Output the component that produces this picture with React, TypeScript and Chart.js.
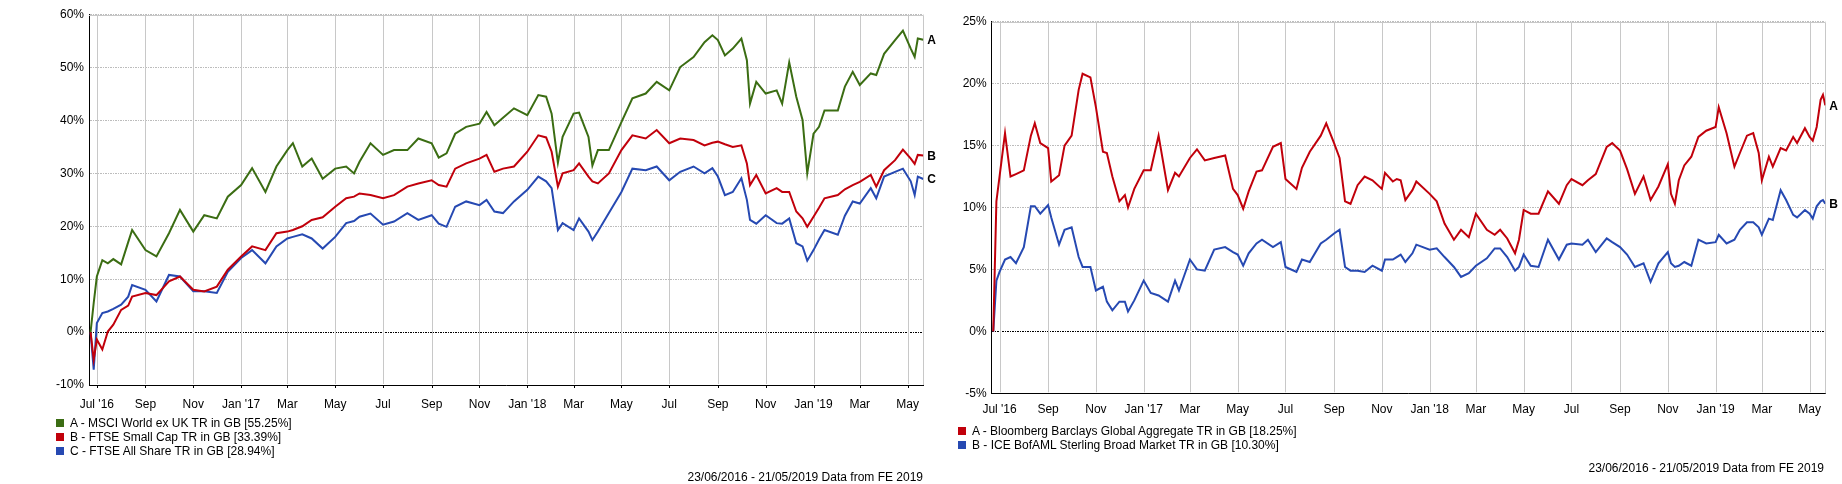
import React, { useEffect, useRef } from "react";
import { Chart, registerables } from "chart.js";

Chart.register(...registerables);

const FONT = 'Arial, "Liberation Sans", sans-serif';

// ---------- shared time axis ----------
const X_MIN = "2016-06-21";
const X_MAX = "2019-05-21";
const TICK_DATES = [
  "2016-07-01", "2016-09-01", "2016-11-01", "2017-01-01", "2017-03-01", "2017-05-01",
  "2017-07-01", "2017-09-01", "2017-11-01", "2018-01-01", "2018-03-01", "2018-05-01",
  "2018-07-01", "2018-09-01", "2018-11-01", "2019-01-01", "2019-03-01", "2019-05-01",
];
const TICK_LABELS = [
  "Jul '16", "Sep", "Nov", "Jan '17", "Mar", "May",
  "Jul", "Sep", "Nov", "Jan '18", "Mar", "May",
  "Jul", "Sep", "Nov", "Jan '19", "Mar", "May",
];

// ---------- left chart (equities) ----------
const LEFT_DATES = [
  "2016-06-23", "2016-06-27", "2016-07-01", "2016-07-08", "2016-07-15", "2016-07-22", "2016-08-01", "2016-08-10", "2016-08-15",
  "2016-09-01", "2016-09-15", "2016-10-01", "2016-10-15", "2016-11-01", "2016-11-15", "2016-12-01", "2016-12-15",
  "2017-01-01", "2017-01-15", "2017-02-01", "2017-02-15", "2017-03-01", "2017-03-08", "2017-03-20", "2017-04-01", "2017-04-15",
  "2017-05-01", "2017-05-15", "2017-05-25", "2017-06-01", "2017-06-15", "2017-07-01", "2017-07-15", "2017-08-01", "2017-08-15",
  "2017-09-01", "2017-09-10", "2017-09-20", "2017-10-01", "2017-10-15", "2017-11-01", "2017-11-10", "2017-11-20", "2017-12-01", "2017-12-15",
  "2018-01-01", "2018-01-15", "2018-01-25", "2018-02-01", "2018-02-09", "2018-02-15", "2018-03-01", "2018-03-08", "2018-03-20", "2018-03-25",
  "2018-04-01", "2018-04-15", "2018-05-01", "2018-05-15", "2018-06-01", "2018-06-15", "2018-07-01", "2018-07-15", "2018-08-01", "2018-08-15",
  "2018-08-25", "2018-09-01", "2018-09-10", "2018-09-20", "2018-10-01", "2018-10-08", "2018-10-12", "2018-10-20", "2018-11-01", "2018-11-15",
  "2018-11-22", "2018-12-01", "2018-12-10", "2018-12-18", "2018-12-24",
  "2019-01-01", "2019-01-08", "2019-01-15", "2019-02-01", "2019-02-10", "2019-02-20", "2019-03-01", "2019-03-15", "2019-03-22",
  "2019-04-01", "2019-04-15", "2019-04-25", "2019-05-05", "2019-05-10", "2019-05-14", "2019-05-21",
];
const MSCI_WORLD_EX_UK = [
  0, 5.5, 10.5, 13.6, 13, 13.8, 12.8, 17, 19.3, 15.5, 14.3, 18.7, 23.1, 19, 22.1, 21.5, 25.6,
  27.8, 31, 26.5, 31.3, 34.4, 35.7, 31.3, 32.8, 29, 30.9, 31.3, 30, 32.2, 35.7, 33.5, 34.4, 34.4, 36.6,
  35.7, 33, 33.8, 37.5, 38.8, 39.4, 41.6, 39.1, 40.5, 42.3,
  41, 44.8, 44.5, 41.3, 32, 36.9, 41.3, 41.5, 36.9, 31.5, 34.4, 34.4, 39.7, 44.2, 45.1, 47.3, 45.7, 50.1,
  52, 54.8, 56.1, 55.2, 52.3, 53.6, 55.5, 51.4, 43.2, 47.3, 45.1, 45.7, 43.2, 51, 44.5, 40.1, 30,
  37.5, 38.8, 41.9, 41.9, 46.4, 49.2, 46.7, 48.9, 48.6, 52.6, 55.2, 57, 53.6, 52, 55.5, 55.25,
];
const FTSE_SMALL_CAP = [
  0, -5.2, -1.4, -3.3, 0.1, 1.4, 4.2, 5, 6.7, 7.4, 7.0, 9.6, 10.5, 8, 7.7, 8.6, 11.8,
  14.3, 16.2, 15.5, 18.7, 19, 19.3, 20, 21.2, 21.7, 23.7, 25.3, 25.6, 26.2, 25.9, 25.3, 25.9, 27.5, 28.1,
  28.7, 27.8, 27.5, 30.9, 31.9, 32.8, 33.5, 30.3, 30.9, 31.3,
  34.1, 37.2, 36.8, 34.1, 27.5, 30, 30.6, 31.9, 29.4, 28.5, 28.1, 30, 34.4, 37.2, 36.6, 38.2, 35.7, 36.6,
  36.3, 35.3, 35.8, 36, 35.5, 35, 35.3, 31.9, 27.8, 29.7, 26.2, 27.2, 26.5, 26.5, 22.8, 21.5, 19.9,
  21.8, 23.5, 25.3, 25.9, 27, 27.8, 28.4, 29.7, 27.5, 30.6, 32.5, 34.5, 32.8, 31.8, 33.5, 33.39,
];
const FTSE_ALL_SHARE = [
  0, -7.1, 1.7, 3.6, 3.9, 4.4, 5.2, 6.7, 8.9, 8, 5.8, 10.8, 10.5, 7.7, 7.7, 7.4, 11.4,
  14, 15.5, 13, 16.2, 17.7, 18, 18.5, 17.7, 15.8, 18, 20.6, 21, 21.8, 22.4, 20.3, 20.9, 22.5, 21.2,
  22.1, 20.5, 19.9, 23.7, 24.7, 24, 25, 22.8, 22.5, 24.7,
  26.9, 29.4, 28.5, 27.2, 19.3, 20.6, 19.3, 21.5, 19, 17.4, 19, 22.5, 26.5, 30.9, 30.6, 31.3, 28.7, 30.3,
  31.3, 30, 31, 29.4, 25.9, 26.5, 29.1, 25, 21.2, 20.5, 22.1, 20.6, 20.5, 21.5, 16.8, 16.2, 13.5,
  15.5, 17.5, 19.3, 18.4, 22, 24.7, 24.3, 27.2, 25.3, 29.4, 30.3, 30.9, 28.5, 25.9, 29.4, 28.94,
];
const LEFT_Y_TICKS = [-10, 60, 10];

// ---------- right chart (bonds) ----------
const RIGHT_DATES = [
  "2016-06-23", "2016-06-27", "2016-07-01", "2016-07-08", "2016-07-15", "2016-07-22", "2016-08-01", "2016-08-10", "2016-08-15",
  "2016-08-22", "2016-09-01", "2016-09-05", "2016-09-15", "2016-09-22", "2016-10-01", "2016-10-10", "2016-10-15", "2016-10-25",
  "2016-11-01", "2016-11-10", "2016-11-15", "2016-11-22", "2016-12-01", "2016-12-08", "2016-12-12", "2016-12-20",
  "2017-01-01", "2017-01-10", "2017-01-20", "2017-02-01", "2017-02-10", "2017-02-15", "2017-03-01", "2017-03-10", "2017-03-20",
  "2017-04-01", "2017-04-15", "2017-04-25", "2017-05-01", "2017-05-08", "2017-05-15", "2017-05-25", "2017-06-01", "2017-06-15",
  "2017-06-25", "2017-07-01", "2017-07-15", "2017-07-22", "2017-08-01", "2017-08-15", "2017-08-22", "2017-09-01", "2017-09-08",
  "2017-09-15", "2017-09-22", "2017-10-01", "2017-10-10", "2017-10-20", "2017-11-01", "2017-11-05", "2017-11-15", "2017-11-20",
  "2017-11-25", "2017-12-01", "2017-12-10", "2017-12-15",
  "2018-01-01", "2018-01-10", "2018-01-20", "2018-02-01", "2018-02-10", "2018-02-20", "2018-03-01", "2018-03-15", "2018-03-25",
  "2018-04-01", "2018-04-10", "2018-04-20", "2018-04-25", "2018-05-01", "2018-05-10", "2018-05-20", "2018-06-01", "2018-06-15",
  "2018-06-25", "2018-07-01", "2018-07-15", "2018-07-22", "2018-08-01", "2018-08-15", "2018-08-22", "2018-09-01", "2018-09-10",
  "2018-09-20", "2018-10-01", "2018-10-10", "2018-10-20", "2018-11-01", "2018-11-05", "2018-11-10", "2018-11-15", "2018-11-22",
  "2018-12-01", "2018-12-10", "2018-12-20",
  "2019-01-01", "2019-01-05", "2019-01-15", "2019-01-25", "2019-02-01", "2019-02-10", "2019-02-18", "2019-02-25", "2019-03-01",
  "2019-03-10", "2019-03-15", "2019-03-25", "2019-04-01", "2019-04-10", "2019-04-15", "2019-04-25", "2019-05-01", "2019-05-05",
  "2019-05-10", "2019-05-15", "2019-05-18", "2019-05-21",
];
const BB_GLOBAL_AGG = [
  0, 10.5, 12.5, 16, 12.5, 12.7, 13, 15.8, 16.8, 15.2, 14.8, 12.1, 12.6, 15, 15.8, 19.5, 20.8, 20.5,
  18.1, 14.5, 14.4, 12.5, 10.5, 11, 10, 11.5,
  13, 13, 15.8, 11.4, 12.8, 12.5, 14, 14.7, 13.8, 14, 14.2, 11.5, 11, 9.9, 11.3, 12.9, 13, 14.9,
  15.2, 12.3, 11.5, 13.2, 14.5, 15.8, 16.8, 15.2, 14, 10.5, 10.3, 11.8, 12.5, 12.2, 11.5, 12.8, 12.1, 12.3,
  12.2, 10.6, 11.4, 12.1,
  11.1, 10.5, 8.7, 7.4, 8.2, 7.6, 9.5, 8.2, 7.8, 8.2, 7.5, 6.3, 7.4, 9.8, 9.5, 9.5, 11.3, 10.3,
  11.8, 12.3, 11.8, 12.2, 12.7, 14.9, 15.2, 14.6, 13.1, 11.1, 12.5, 10.6, 11.7, 13.5, 11.1, 10.3, 12.2, 13.4,
  14.1, 15.7, 16.2,
  16.5, 18.1, 16, 13.3, 14.4, 15.8, 16, 14.4, 12.2, 14.1, 13.3, 14.8, 14.6, 15.7, 15.2, 16.4, 15.7, 15.4,
  16.5, 18.7, 19.1, 18.25,
];
const ICE_STERLING_BROAD = [
  0, 4.1, 4.8, 5.8, 6, 5.5, 6.8, 10.1, 10.1, 9.5, 10.2, 9.2, 7, 8.2, 8.4, 6, 5.2, 5.2,
  3.3, 3.6, 2.4, 1.7, 2.4, 2.4, 1.6, 2.5,
  4.1, 3.1, 2.9, 2.4, 4.1, 3.3, 5.8, 5, 4.9, 6.6, 6.8, 6.4, 6.2, 5.3, 6.3, 7.1, 7.4, 6.8,
  7.2, 5.2, 4.8, 5.8, 5.6, 7.1, 7.4, 7.9, 8.2, 5.2, 4.9, 4.9, 4.8, 5.3, 4.9, 5.8, 5.8, 6,
  6.2, 5.6, 6.3, 7,
  6.6, 6.7, 6, 5.2, 4.4, 4.7, 5.3, 5.9, 6.7, 6.7, 6, 4.9, 5.2, 6.2, 5.3, 5.2, 7.4, 5.8,
  7, 7.1, 7, 7.4, 6.4, 7.5, 7.2, 6.8, 6.2, 5.2, 5.5, 4, 5.5, 6.4, 5.5, 5.2, 5.3, 5.6,
  5.3, 7.4, 7.1,
  7.2, 7.8, 7.1, 7.4, 8.2, 8.8, 8.8, 8.4, 7.8, 9.1, 9, 11.4, 10.6, 9.4, 9.2, 9.8, 9.5, 9.1,
  10.1, 10.5, 10.6, 10.3,
];
const RIGHT_Y_TICKS = [-5, 25, 5];

const LEFT_NAMES = [
  "A - MSCI World ex UK TR in GB [55.25%]",
  "B - FTSE Small Cap TR in GB [33.39%]",
  "C - FTSE All Share TR in GB [28.94%]",
];
const RIGHT_NAMES = [
  "A - Bloomberg Barclays Global Aggregate TR in GB [18.25%]",
  "B - ICE BofAML Sterling Broad Market TR in GB [10.30%]",
];
const FOOTER = "23/06/2016 - 21/05/2019 Data from FE 2019";

const GREEN = "#3b6d13";
const RED = "#c1000b";
const BLUE = "#2649b2";

const dayNum = (s: string) =>
  Date.UTC(+s.slice(0, 4), +s.slice(5, 7) - 1, +s.slice(8, 10)) / 86400000;

type Series = { letter: string; name: string; color: string; values: number[] };
type PanelCfg = {
  x: number;
  width: number;
  height: number;
  plotLeft: number;
  plotTop: number;
  plotRight: number;
  plotBottom: number;
  tickMark: number;
  labelPad: number;
  yTicks: number[];
  dates: string[];
  series: Series[];
};

const LEFT: PanelCfg = {
  x: 0, width: 940, height: 484,
  plotLeft: 89, plotTop: 14.7, plotRight: 923.3, plotBottom: 385,
  tickMark: 3, labelPad: 4,
  yTicks: LEFT_Y_TICKS, dates: LEFT_DATES,
  series: [
    { letter: "A", name: LEFT_NAMES[0], color: GREEN, values: MSCI_WORLD_EX_UK },
    { letter: "B", name: LEFT_NAMES[1], color: RED, values: FTSE_SMALL_CAP },
    { letter: "C", name: LEFT_NAMES[2], color: BLUE, values: FTSE_ALL_SHARE },
  ],
};
const RIGHT: PanelCfg = {
  x: 940, width: 902, height: 484,
  plotLeft: 51.7, plotTop: 21.7, plotRight: 885.3, plotBottom: 393.3,
  tickMark: 0, labelPad: 1,
  yTicks: RIGHT_Y_TICKS, dates: RIGHT_DATES,
  series: [
    { letter: "A", name: RIGHT_NAMES[0], color: RED, values: BB_GLOBAL_AGG },
    { letter: "B", name: RIGHT_NAMES[1], color: BLUE, values: ICE_STERLING_BROAD },
  ],
};

function ChartPanel({ cfg }: { cfg: PanelCfg }) {
  const ref = useRef<HTMLCanvasElement | null>(null);
  useEffect(() => {
    const canvas = ref.current;
    if (!canvas) return;
    const letters = cfg.series.map((s) => s.letter);
    const frame = {
      id: "frame",
      beforeDatasetsDraw(chart: any) {
        const { ctx, chartArea: a } = chart;
        const xs = chart.scales.x;
        ctx.save();
        ctx.setLineDash([]);
        ctx.lineWidth = 1;
        // vertical month grid lines, placed through the x scale
        ctx.strokeStyle = "#c8c8c8";
        ctx.beginPath();
        TICK_DATES.forEach((d) => {
          const px = Math.round(xs.getPixelForValue(dayNum(d))) + 0.5;
          ctx.moveTo(px, a.top);
          ctx.lineTo(px, a.bottom - 1);
        });
        // top and right frame
        const t = Math.round(a.top) + 0.5;
        const r = Math.round(a.right) + 0.5;
        ctx.moveTo(a.left, t);
        ctx.lineTo(r, t);
        ctx.lineTo(r, a.bottom);
        ctx.stroke();
        if (cfg.tickMark > 0) {
          ctx.strokeStyle = "#000";
          ctx.beginPath();
          TICK_DATES.forEach((d) => {
            const px = Math.round(xs.getPixelForValue(dayNum(d))) + 0.5;
            ctx.moveTo(px, a.bottom);
            ctx.lineTo(px, a.bottom + cfg.tickMark);
          });
          ctx.stroke();
        }
        ctx.restore();
      },
    };
    const endLetters = {
      id: "endLetters",
      afterDatasetsDraw(chart: any) {
        const { ctx } = chart;
        ctx.save();
        ctx.font = `bold 12px ${FONT}`;
        ctx.fillStyle = "#000";
        ctx.textAlign = "left";
        ctx.textBaseline = "middle";
        chart.data.datasets.forEach((_: any, i: number) => {
          const pts = chart.getDatasetMeta(i).data;
          const last = pts[pts.length - 1];
          if (last) ctx.fillText(letters[i], last.x + 4, last.y + 1);
        });
        ctx.restore();
      },
    };
    const [yMin, yMax, yStep] = cfg.yTicks;
    const chart = new Chart(canvas, {
      type: "line",
      data: {
        datasets: cfg.series.map((s) => ({
          label: s.name,
          data: cfg.dates.map((d, i) => ({ x: dayNum(d), y: s.values[i] })),
          borderColor: s.color,
          backgroundColor: s.color,
          borderWidth: 2,
          pointRadius: 0,
          tension: 0,
          fill: false,
        })),
      },
      options: {
        responsive: false,
        animation: false,
        events: [],
        layout: {
          padding: { left: 0, top: cfg.plotTop, right: cfg.width - cfg.plotRight, bottom: 0 },
        },
        plugins: { legend: { display: false }, tooltip: { enabled: false } },
        scales: {
          x: {
            type: "linear",
            min: dayNum(X_MIN),
            max: dayNum(X_MAX),
            afterBuildTicks: (s: any) => {
              s.ticks = TICK_DATES.map((d) => ({ value: dayNum(d) }));
            },
            afterFit: (s: any) => {
              s.height = cfg.height - cfg.plotBottom;
              s.paddingLeft = 0;
              s.paddingRight = 0;
            },
            ticks: {
              autoSkip: false,
              maxRotation: 0,
              minRotation: 0,
              padding: cfg.labelPad,
              color: "#000",
              font: { family: FONT, size: 12 },
              callback: (_v: any, i: number) => TICK_LABELS[i],
            },
            grid: { display: false },
            border: { display: true, color: "#000", width: 1 },
          },
          y: {
            type: "linear",
            min: yMin,
            max: yMax,
            afterFit: (s: any) => {
              s.width = cfg.plotLeft;
              s.paddingTop = 0;
              s.paddingBottom = 0;
            },
            ticks: {
              stepSize: yStep,
              padding: 5,
              color: "#000",
              font: { family: FONT, size: 12 },
              callback: (v: any) => `${v}%`,
            },
            grid: {
              color: (c: any) => (c.tick && c.tick.value === 0 ? "#000" : "#bcbcbc"),
              lineWidth: 1,
              drawTicks: false,
            },
            border: { color: "#000", width: 1, dash: [2, 1, 1, 1] },
          },
        },
      },
      plugins: [frame, endLetters],
    } as any);
    return () => chart.destroy();
  }, [cfg]);
  return (
    <canvas
      ref={ref}
      width={cfg.width}
      height={cfg.height}
      style={{ position: "absolute", left: cfg.x, top: 0, width: cfg.width, height: cfg.height, display: "block" }}
    />
  );
}

function LegendRow({ x, cy, color, text }: { x: number; cy: number; color: string; text: string }) {
  return (
    <div style={{ position: "absolute", left: x, top: cy - 7, height: 14, lineHeight: "14px", whiteSpace: "nowrap" }}>
      <span style={{ position: "absolute", left: 0, top: 3, width: 8, height: 8, background: color }} />
      <span style={{ position: "absolute", left: 14, top: 0 }}>{text}</span>
    </div>
  );
}

export default function App() {
  const leftRows = [422.7, 436.7, 451];
  const rightRows = [430.7, 445];
  return (
    <div
      style={{
        position: "absolute", left: 0, top: 0, width: 1842, height: 484, background: "#fff",
        fontFamily: FONT, fontSize: 12, color: "#000", overflow: "hidden",
      }}
    >
      <ChartPanel cfg={LEFT} />
      <ChartPanel cfg={RIGHT} />
      {LEFT.series.map((s, i) => (
        <LegendRow key={"l" + i} x={56} cy={leftRows[i]} color={s.color} text={s.name} />
      ))}
      {RIGHT.series.map((s, i) => (
        <LegendRow key={"r" + i} x={958} cy={rightRows[i]} color={s.color} text={s.name} />
      ))}
      <div style={{ position: "absolute", right: 1842 - 923, top: 477 - 7, lineHeight: "14px", whiteSpace: "nowrap" }}>
        {FOOTER}
      </div>
      <div style={{ position: "absolute", right: 1842 - 1824, top: 467.7 - 7, lineHeight: "14px", whiteSpace: "nowrap" }}>
        {FOOTER}
      </div>
    </div>
  );
}
